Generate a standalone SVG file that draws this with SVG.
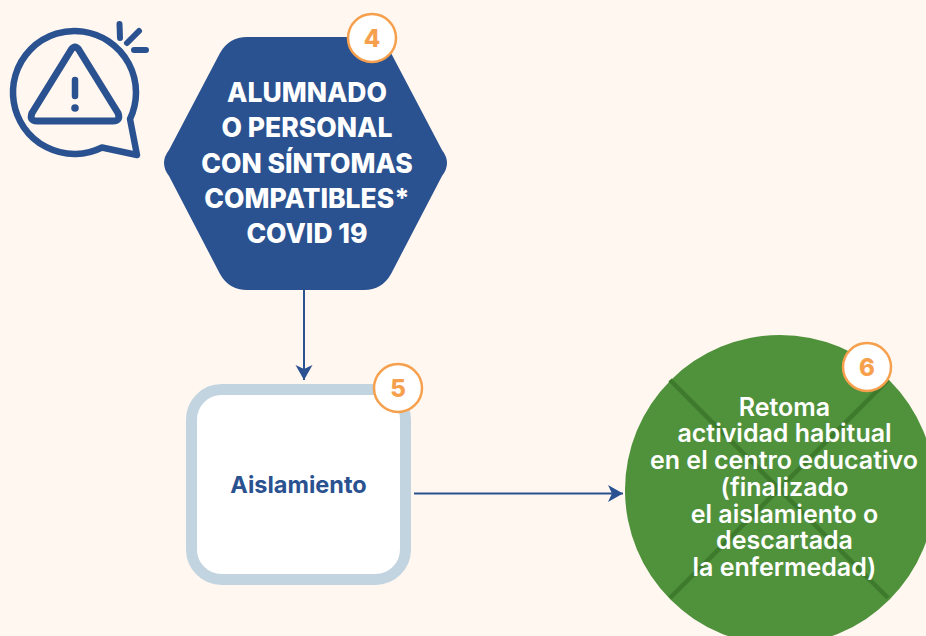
<svg xmlns="http://www.w3.org/2000/svg" width="926" height="636" viewBox="0 0 926 636">
<style>
.blue{fill:none;stroke:#2b5290;stroke-linecap:round;stroke-linejoin:round}
.conn{fill:none;stroke:#2b5290;stroke-width:2}
.badge{fill:#fff;stroke:#f6a04d;stroke-width:2.5}
.num{font:800 24px "Inter","Liberation Sans",sans-serif;fill:#f6a04d;text-anchor:middle}
.hex{font:800 26.5px "Inter","Liberation Sans",sans-serif;fill:#fff;text-anchor:middle}
.res{font:600 25px "Inter","Liberation Sans",sans-serif;fill:#fff;text-anchor:middle}
.lab{font:700 23.500px "Inter","Liberation Sans",sans-serif;fill:#2b5290;text-anchor:middle}
</style>
<defs><marker id="arrow" markerUnits="userSpaceOnUse" markerWidth="18" markerHeight="18" refX="15" refY="8.500" orient="auto"><path d="M0 0L15 8.500L0 17L4 8.500Z" fill="#2b5290"/></marker></defs>
<rect width="926" height="636" fill="#fff7f0"/>
<g id="alert-icon">
<path class="blue" stroke-width="6.500" d="M130 119A61.500 61.500 0 1 0 102 147.500L137 155Z"/>
<path class="blue" stroke-width="7" d="M71 50Q75 44 79 50L118 113Q121 121 113 121H37Q29 121 32 113Z"/>
<path class="blue" stroke-width="6.500" d="M75 80V96"/>
<circle cx="75" cy="108" r="3.800" fill="#2b5290"/>
<path class="blue" stroke-width="6" d="M119.500 24L120 38M139 31L127 43M134 50H146"/>
</g>
<g id="connectors">
<path class="conn" d="M304 290V380" marker-end="url(#arrow)"/>
<path class="conn" d="M414 493.500H623" marker-end="url(#arrow)"/>
</g>
<g id="node-4">
<path d="M247 37H364Q382 37 391 53L442 150Q452 163 442 176L391 274Q382 290 364 290H247Q229 290 220 274L169 176Q159 163 169 150L220 53Q229 37 247 37Z" fill="#2b5290"/>
<text class="hex"><tspan x="307" y="102">ALUMNADO</tspan><tspan x="307" y="137">O PERSONAL</tspan><tspan x="307" y="173">CON SÍNTOMAS</tspan><tspan x="307" y="207.500">COMPATIBLES*</tspan><tspan x="307" y="243">COVID 19</tspan></text>
<circle class="badge" cx="372" cy="38" r="24"/>
<text class="num" x="372" y="47">4</text>
</g>
<g id="node-5">
<rect x="191.500" y="389.500" width="214" height="190" rx="30" fill="#fff" stroke="#c2d4e0" stroke-width="11"/>
<text class="lab" x="298.500" y="493">Aislamiento</text>
<circle class="badge" cx="398" cy="388" r="24"/>
<text class="num" x="398" y="397">5</text>
</g>
<g id="node-6">
<circle cx="780" cy="490" r="155" fill="#50923c"/>
<path d="M670 380L888 598M888 380L670 598" stroke="#3d7a2b" stroke-width="4.500" fill="none"/>
<text class="res"><tspan x="784.500" y="415.500">Retoma</tspan><tspan x="784.500" y="442">actividad habitual</tspan><tspan x="784" y="468.500">en el centro educativo</tspan><tspan x="784.500" y="496">(finalizado</tspan><tspan x="784.500" y="522.500">el aislamiento o</tspan><tspan x="784.500" y="549">descartada</tspan><tspan x="784.500" y="575.500">la enfermedad)</tspan></text>
<circle class="badge" cx="867" cy="367" r="24"/>
<text class="num" x="867" y="376">6</text>
</g>
</svg>
